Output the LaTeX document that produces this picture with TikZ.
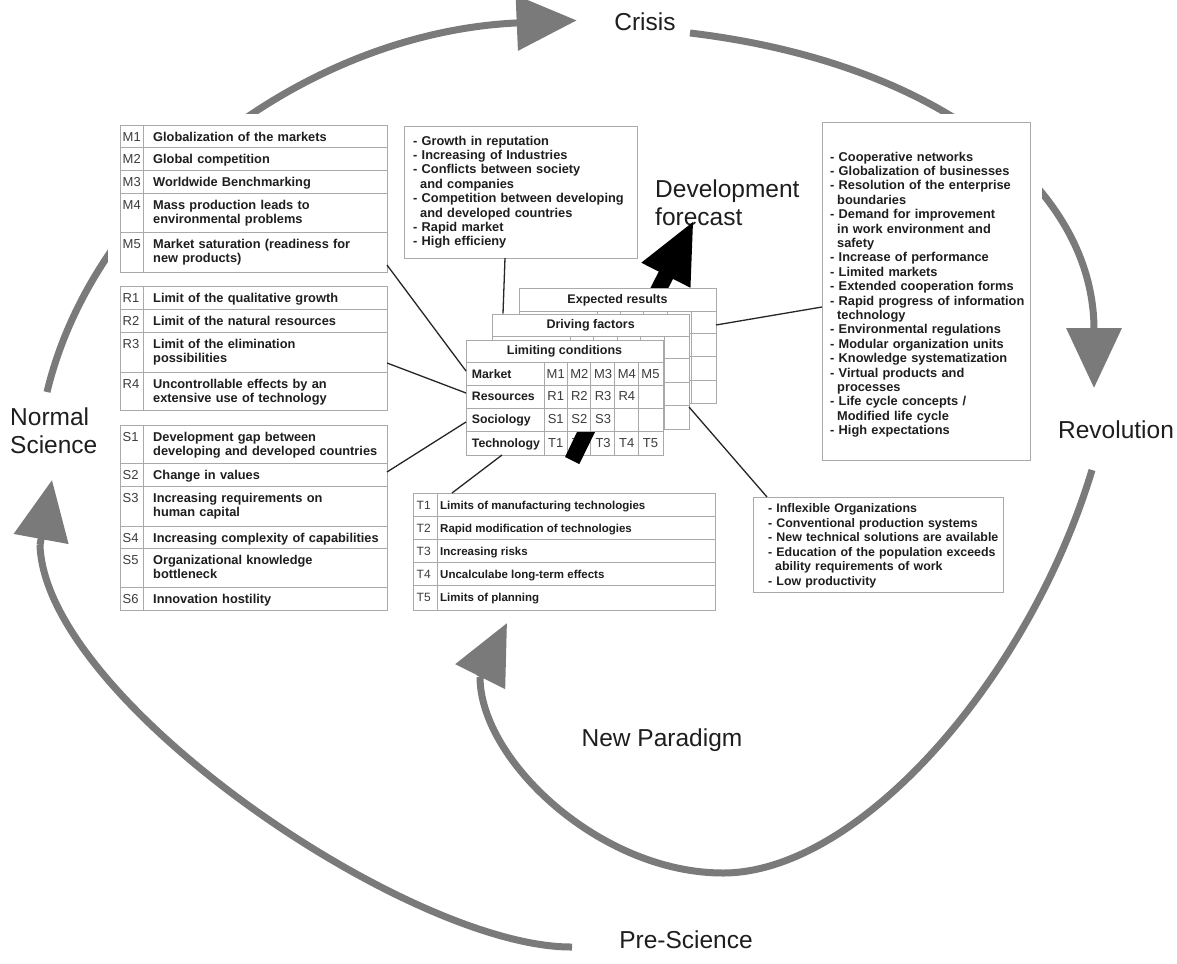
\documentclass[tikz,border=0pt]{standalone}
\usepackage{fontspec}
\setmainfont{Liberation Sans}
\usetikzlibrary{arrows.meta}
\definecolor{arcgray}{RGB}{122,122,122}
\definecolor{framegray}{RGB}{170,170,170}
\definecolor{txt}{RGB}{30,30,30}
\definecolor{idxgray}{RGB}{60,60,60}
\tikzset{
  cyc/.style={draw=arcgray, line width=7pt},
  cyctip/.style={cyc, -{Triangle[length=60pt,width=54pt]}},
  biglabel/.style={font=\fontsize{24.5}{29}\selectfont, text=txt, inner sep=0pt, align=left},
  panel/.style={fill=white, draw=none},
  frame/.style={draw=framegray, line width=0.8pt, fill=white, inner sep=0pt, anchor=north west},
  rule/.style={draw=framegray, line width=0.8pt},
  item/.style={font=\bfseries\fontsize{12.8}{14.4}\selectfont, text=txt, inner sep=0pt, anchor=base west, align=left, text width=232pt},
  titem/.style={font=\bfseries\fontsize{11.5}{13}\selectfont, text=txt, inner sep=0pt, anchor=base west},
  idx/.style={font=\fontsize{13}{14}\selectfont, text=idxgray, inner sep=0pt, anchor=base west},
  tidx/.style={font=\fontsize{12}{13}\selectfont, text=idxgray, inner sep=0pt, anchor=base west},
  list/.style={font=\bfseries\fontsize{12.8}{14.4}\selectfont, text=txt, inner sep=0pt, anchor=base west, align=left},
  hdr/.style={font=\bfseries\fontsize{12.5}{14}\selectfont, text=txt, inner sep=0pt},
  rowlab/.style={font=\bfseries\fontsize{12.3}{14}\selectfont, text=txt, inner sep=0pt, anchor=base west},
  cell/.style={font=\fontsize{13}{14}\selectfont, text=idxgray, inner sep=0pt, anchor=base},
  conn/.style={draw=black!85, line width=1.3pt},
  fcarrow/.style={draw=black, line width=16pt, -{Triangle[length=62pt,width=50pt]}},
}
\newcommand\ind{\hspace*{7pt}}
\newcommand\mrow[4]{%
  \node[idx] (#1l) at (122.5,{#2+16}) {#3};
  \node[item] (#1) at (153,{#2+16}) {#4};}
\newcommand\trow[4]{%
  \node[tidx] (#1l) at (416.5,{#2+16}) {#3};
  \node[titem] (#1) at (440,{#2+16}) {#4};}
\newcommand\ctab[4]{%
  \node[frame, minimum width=197pt, minimum height=115pt] (#1) at (#2,#3) {};
  \foreach \dy in {22.7,45,68.3,91.7} \draw[rule] (#2,{#3+\dy}) -- ({#2+197},{#3+\dy});
  \foreach \dx in {78,101.3,124.7,148.3,172.3} \draw[rule] ({#2+\dx},{#3+22.7}) -- ({#2+\dx},{#3+115});
  \node[hdr] (#1h) at ({#2+98.5},{#3+11.6}) {#4};}
\begin{document}
\begin{tikzpicture}[x=1pt,y=-1pt]
\useasboundingbox (0,0) rectangle (1177,963);
\fill[white] (0,0) rectangle (1177,963);

% ---------- cycle labels
\node[biglabel] (crisis) at (645,22) {Crisis};
\node[biglabel] (revol) at (1116,430) {Revolution};
\node[biglabel, anchor=west] (normal) at (10,431) {Normal\\[-1pt]Science};
\node[biglabel] (newpar) at (662,740) {New Paradigm};
\node[biglabel] (presci) at (686,940) {Pre-Science};
\node[biglabel, anchor=north west] (devfc) at (655,180) {Development\\[-1pt]forecast};

% ---------- cycle arcs
\coordinate (nsTop) at (47,392);
\coordinate (crIn) at (577,21);
\coordinate (crOut) at (690,33);
\coordinate (rvIn) at (1094,388);
\coordinate (rvOut) at (1092,470);
\coordinate (npIn) at (507,623);
\coordinate (psOut) at (572,947);
\coordinate (nsIn) at (52,480);
\draw[cyctip] (nsTop) arc[start angle=169, end angle=93, x radius=570pt, y radius=460pt];
\draw[cyctip] (crOut) .. controls (940,63) and (1094,188) .. (rvIn);
\draw[cyc] (rvOut) .. controls (1029,679) and (859,873) .. (723,873)
  .. controls (600,873) and (480,760) .. (480,677);
\draw[cyctip] (480,677) -- (npIn);
\draw[cyc] (psOut) .. controls (410,948) and (45,700) .. (40,545);
\draw[cyctip] (40,545) -- (nsIn);

% ---------- white panels behind the boxes (hide parts of the arcs)
\fill[panel] (108,114) rectangle (396,618);
\fill[panel] (812,114) rectangle (1042,468);

% ---------- development forecast arrow (behind tables)
\draw[fcarrow] (584,436) -- (694,220);

% ---------- M box
\node[frame, minimum width=267pt, minimum height=147pt] (mbox) at (120,125) {};
\foreach \y in {147,170,193,232} \draw[rule] (120,\y) -- (387,\y);
\draw[rule] (143,125) -- (143,272);
\mrow{m1}{125}{M1}{Globalization of the markets}
\mrow{m2}{147}{M2}{Global competition}
\mrow{m3}{170}{M3}{Worldwide Benchmarking}
\mrow{m4}{193}{M4}{Mass production leads to\\environmental problems}
\mrow{m5}{232}{M5}{Market saturation (readiness for\\new products)}

% ---------- R box
\node[frame, minimum width=267pt, minimum height=124pt] (rbox) at (120,286) {};
\foreach \y in {309,332,372} \draw[rule] (120,\y) -- (387,\y);
\draw[rule] (143,286) -- (143,410);
\mrow{r1}{286}{R1}{Limit of the qualitative growth}
\mrow{r2}{309}{R2}{Limit of the natural resources}
\mrow{r3}{332}{R3}{Limit of the elimination\\possibilities}
\mrow{r4}{372}{R4}{Uncontrollable effects by an\\extensive use of technology}

% ---------- S box
\node[frame, minimum width=267pt, minimum height=185pt] (sbox) at (120,425) {};
\foreach \y in {463,486,526,548,587} \draw[rule] (120,\y) -- (387,\y);
\draw[rule] (143,425) -- (143,610);
\mrow{s1}{425}{S1}{Development gap between\\developing and developed countries}
\mrow{s2}{463}{S2}{Change in values}
\mrow{s3}{486}{S3}{Increasing requirements on\\human capital}
\mrow{s4}{526}{S4}{Increasing complexity of capabilities}
\mrow{s5}{548}{S5}{Organizational knowledge\\bottleneck}
\mrow{s6}{587}{S6}{Innovation hostility}

% ---------- T box
\node[frame, minimum width=302pt, minimum height=117pt] (tbox) at (413,493) {};
\foreach \y in {516.7,539,562.3,585.7} \draw[rule] (413,\y) -- (715,\y);
\draw[rule] (437.3,493) -- (437.3,610);
\trow{t1}{493}{T1}{Limits of manufacturing technologies}
\trow{t2}{516.7}{T2}{Rapid modification of technologies}
\trow{t3}{539}{T3}{Increasing risks}
\trow{t4}{562.3}{T4}{Uncalculabe long-term effects}
\trow{t5}{585.7}{T5}{Limits of planning}

% ---------- top middle box
\node[frame, minimum width=233pt, minimum height=132pt] (gbox) at (404,126) {};
\node[list, text width=225pt] (glist) at (413,145) {- Growth in reputation\\
- Increasing of Industries\\
- Conflicts between society\\
\ind and companies\\
- Competition between developing\\
\ind and developed countries\\
- Rapid market\\
- High efficieny};

% ---------- right box
\node[frame, minimum width=208pt, minimum height=338pt] (xbox) at (822,122) {};
\node[list, text width=200pt] (xlist) at (830,161) {- Cooperative networks\\
- Globalization of businesses\\
- Resolution of the enterprise\\
\ind boundaries\\
- Demand for improvement\\
\ind in work environment and\\
\ind safety\\
- Increase of performance\\
- Limited markets\\
- Extended cooperation forms\\
- Rapid progress of information\\
\ind technology\\
- Environmental regulations\\
- Modular organization units\\
- Knowledge systematization\\
- Virtual products and\\
\ind processes\\
- Life cycle concepts /\\
\ind Modified life cycle\\
- High expectations};

% ---------- bottom right box
\node[frame, minimum width=250pt, minimum height=95pt] (ibox) at (753,497) {};
\node[list, text width=235pt, font=\bfseries\fontsize{12.4}{14.6}\selectfont] (ilist) at (768,512.5) {- Inflexible Organizations\\
- Conventional production systems\\
- New technical solutions are available\\
- Education of the population exceeds\\
\ind ability requirements of work\\
- Low productivity};

% ---------- stacked tables
\ctab{er}{519}{288.3}{Expected results}
\ctab{df}{492.2}{313.6}{Driving factors}
\ctab{lc}{466}{340}{Limiting conditions}
\node[rowlab] (lcm) at (471.7,378.2) {Market};
\node[rowlab] (lcr) at (471.7,400.5) {Resources};
\node[rowlab] (lcs) at (471.7,423.8) {Sociology};
\node[rowlab] (lct) at (471.7,447.2) {Technology};
\foreach \t [count=\i] in {M1,M2,M3,M4,M5} \node[cell] (cm\i) at ({532+23.7*\i},378.2) {\t};
\foreach \t [count=\i] in {R1,R2,R3,R4} \node[cell] (cr\i) at ({532+23.7*\i},400.5) {\t};
\foreach \t [count=\i] in {S1,S2,S3} \node[cell] (cs\i) at ({532+23.7*\i},423.8) {\t};
\foreach \t [count=\i] in {T1,T2,T3,T4,T5} \node[cell] (ct\i) at ({532+23.7*\i},447.2) {\t};
% arrow stub in front
\fill[black] (565,457) -- (577,432) -- (595,432) -- (579.3,464.1) -- cycle;

% ---------- connectors
\coordinate (mout) at (387,265);  \coordinate (lcin1) at (466,371);
\coordinate (rout) at (387,363);  \coordinate (lcin2) at (466,393);
\coordinate (sout) at (387,472);  \coordinate (lcin3) at (466,422);
\coordinate (tout) at (452,493);  \coordinate (lcin4) at (502,455);
\coordinate (gout) at (505,258);  \coordinate (dfin) at (503,313.6);
\coordinate (xout) at (822,307);  \coordinate (erin) at (716,325);
\coordinate (dfout) at (689,407); \coordinate (iin) at (767,497);
\draw[conn] (mout) -- (lcin1);
\draw[conn] (rout) -- (lcin2);
\draw[conn] (sout) -- (lcin3);
\draw[conn] (tout) -- (lcin4);
\draw[conn] (gout) -- (dfin);
\draw[conn] (xout) -- (erin);
\draw[conn] (dfout) -- (iin);
\end{tikzpicture}
\end{document}
